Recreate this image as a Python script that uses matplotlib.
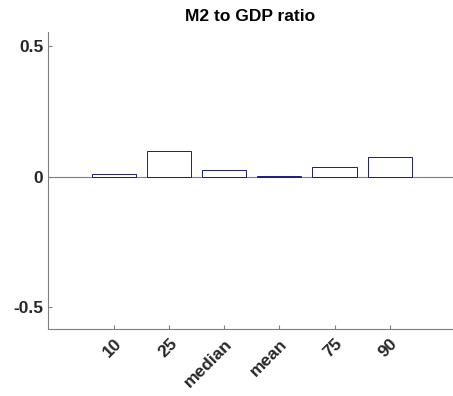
import numpy as np
import matplotlib.pyplot as plt

plt.rcParams['font.family'] = ['Liberation Sans', 'DejaVu Sans']

labels = ['10', '25', 'median', 'mean', '75', '90']
ratio = [0.011, 0.099, 0.025, 0.002, 0.036, 0.075]

fig = plt.figure(figsize=(4.53, 3.96), dpi=100)
ax = fig.add_axes([0.106, 0.169, 0.894, 0.75])

x = np.arange(1, len(labels) + 1)
ax.bar(x, ratio, width=0.8, facecolor='white', edgecolor='#1a1a80', linewidth=0.7, zorder=3)
ax.axhline(0, color='#808080', linewidth=0.8, zorder=2)

ax.set_xlim(-0.2, 7.15)
ax.set_ylim(-0.585, 0.555)
ax.set_xticks(x)
ax.set_xticklabels(labels, rotation=45, ha='right', rotation_mode='anchor', fontweight='bold', fontsize=12.5)
ax.set_yticks([-0.5, 0, 0.5])
ax.set_yticklabels(['-0.5', '0', '0.5'], fontweight='bold', fontsize=12.5)
ax.tick_params(direction='in', length=3, color='#808080', labelcolor='#262626')
ax.tick_params(axis='x', pad=5)

for s in ['top', 'right']:
    ax.spines[s].set_visible(False)
for s in ['left', 'bottom']:
    ax.spines[s].set_color('#808080')
    ax.spines[s].set_linewidth(0.8)

ax.set_title('M2 to GDP ratio', fontweight='bold', fontsize=12.5, pad=8)

fig.savefig('out.png', dpi=100)
